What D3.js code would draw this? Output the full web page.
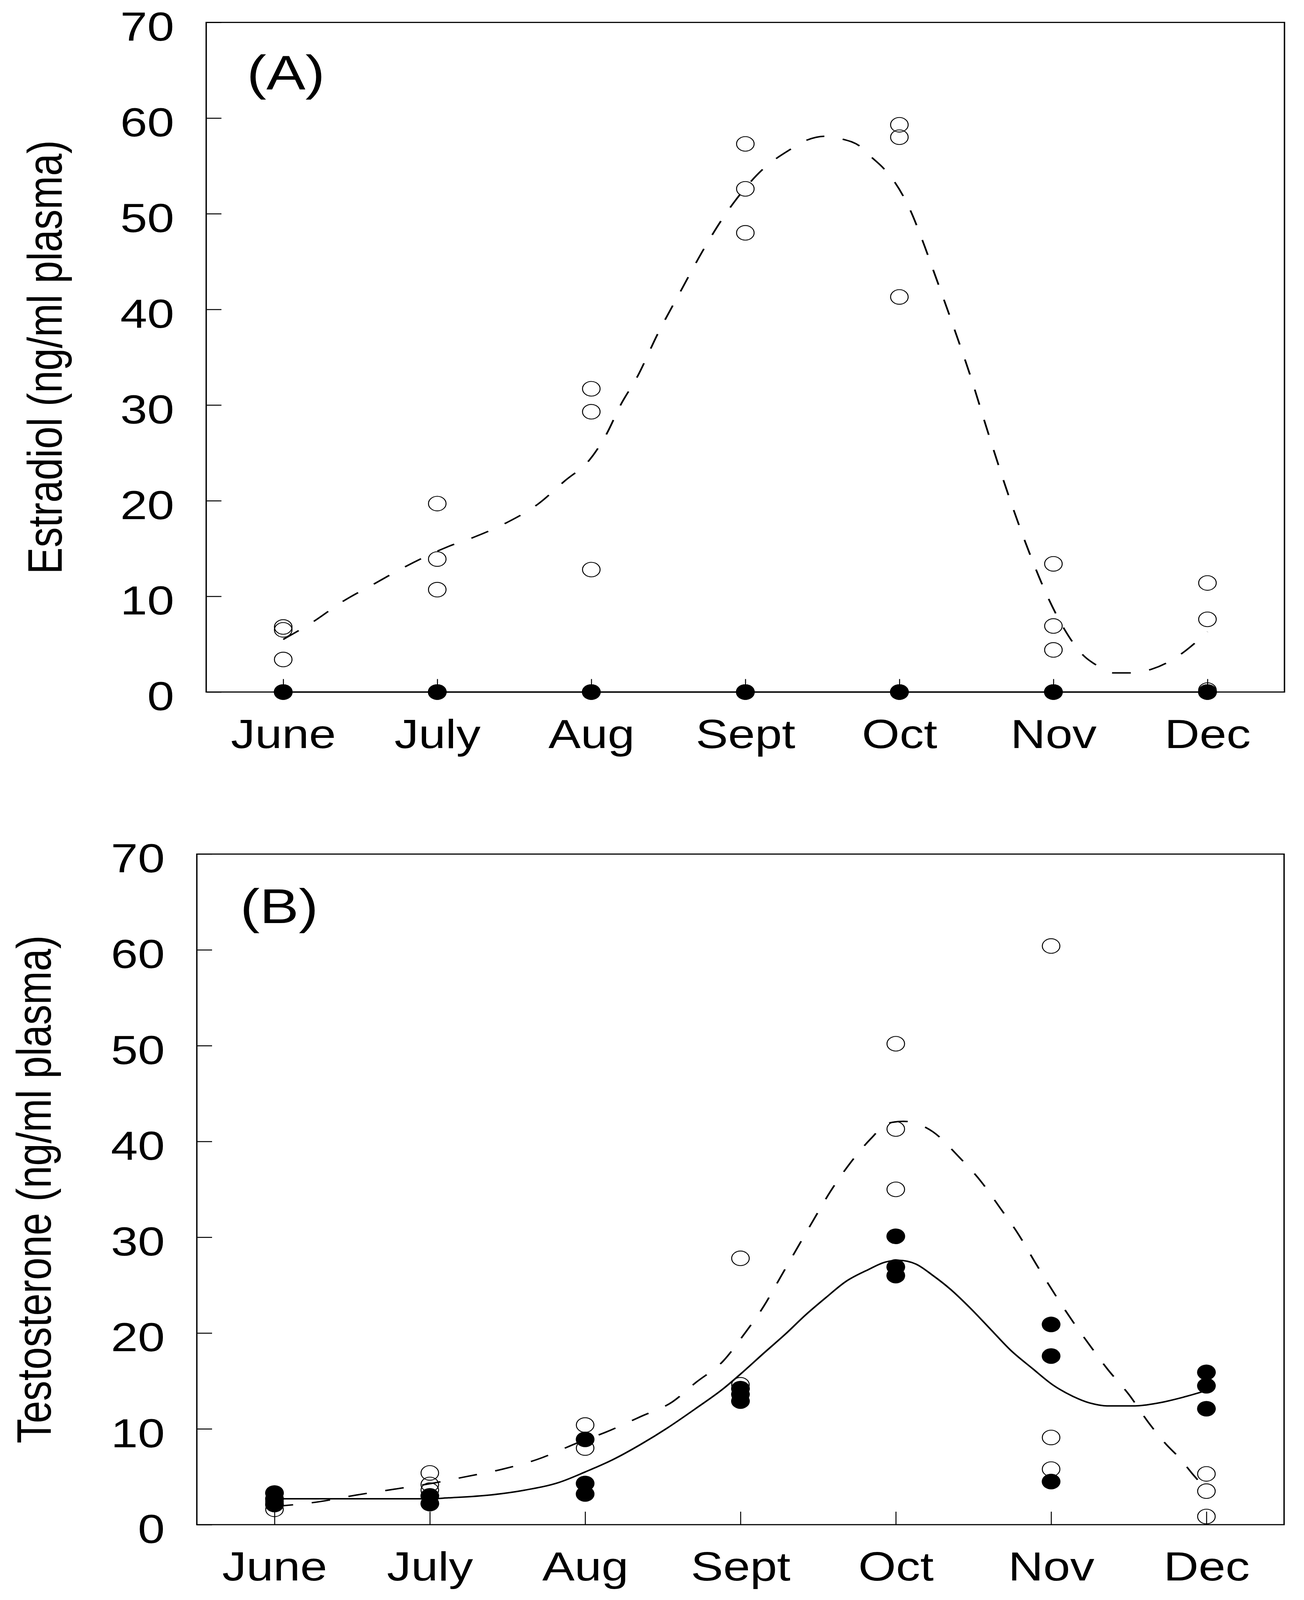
<!DOCTYPE html>
<html><head><meta charset="utf-8">
<script src="https://cdn.jsdelivr.net/npm/d3@7"></script>
<style>html,body{margin:0;padding:0;background:#fff;overflow:hidden}svg{display:block}</style>
</head><body><svg id="chart"></svg>
<script>
// ---------- data ----------
const months = ["June","July","Aug","Sept","Oct","Nov","Dec"];
const yTicks = [0,10,20,30,40,50,60,70];

// Panel A: Estradiol
const estradiolOpen = [
  [6.8, 6.5, 3.4],
  [19.7, 13.9, 10.7],
  [31.7, 29.3, 12.8],
  [57.3, 52.6, 48.0],
  [59.3, 58.0, 41.3],
  [13.4, 6.9, 4.4],
  [11.4, 7.6, 0.2]
];
const estradiolFilled = [
  [0,0,0],[0,0,0],[0,0,0],[0,0,0],[0,0,0],[0,0,0],[0,0,0]
];
const estradiolOpenFitX = [0,0.2,0.38,0.59,0.78,1.07,1.24,1.45,1.65,1.83,1.99,2.10,2.19,2.30,2.43,2.58,2.73,2.84,2.96,3.11,3.29,3.40,3.52,3.63,3.74,3.82,3.90,3.97,4.07,4.15,4.22,4.36,4.46,4.58,4.71,4.85,4.97,5.07,5.19,5.28,5.39,5.51,5.64,5.73,5.84,5.91,6.0];
const estradiolOpenFitY = [5.5,7.4,9.4,11.3,13.0,15.2,16.2,17.7,19.6,22.1,24.3,27.0,30.0,33.0,37.4,41.9,46.3,49.2,51.9,54.6,56.7,57.7,58.1,57.8,57.1,55.9,54.7,53.3,50.4,47.2,44.1,37.8,33.1,26.9,20.5,14.3,9.7,6.6,3.9,2.8,2.0,2.0,2.4,3.0,4.1,5.0,6.3];
const estradiolFilledFitX = [0,6];
const estradiolFilledFitY = [0,0];

// Panel B: Testosterone
const testoOpen = [
  [1.6, 2.4],
  [5.4, 4.2, 3.6],
  [10.4, 8.0],
  [27.8, 14.6],
  [50.2, 41.3, 35.0],
  [60.4, 9.1, 5.8],
  [5.3, 3.5, 0.85]
];
const testoFilled = [
  [3.3, 2.7, 2.1],
  [3.0, 2.2],
  [8.9, 4.3, 3.2],
  [14.2, 13.6, 12.9],
  [30.1, 26.9, 26.0],
  [20.9, 17.6, 4.5],
  [15.9, 14.5, 12.1]
];
const testoOpenFitX = [0,0.29,0.53,0.77,1.01,1.23,1.47,1.69,1.96,2.14,2.36,2.56,2.71,2.89,3.02,3.15,3.26,3.37,3.47,3.58,3.70,3.84,3.95,4.05,4.24,4.40,4.55,4.67,4.79,4.90,5.03,5.14,5.25,5.36,5.50,5.63,5.74,5.83,5.91,6.0];
const testoOpenFitY = [1.9,2.4,3.1,3.7,4.3,5.0,5.8,6.8,8.6,9.7,11.3,12.8,14.8,17.1,19.8,22.8,25.9,29.0,31.8,34.8,37.6,40.3,41.9,42.1,41.0,38.5,35.8,33.1,30.3,27.3,23.9,21.2,18.7,16.3,13.6,10.6,8.4,6.9,5.3,3.7];
const testoFilledFitX = [0,1.0,1.12,1.39,1.61,1.83,2.0,2.18,2.36,2.53,2.71,2.89,3.02,3.15,3.29,3.42,3.55,3.68,3.82,3.93,4.02,4.13,4.24,4.35,4.48,4.61,4.74,4.88,5.01,5.14,5.25,5.36,5.54,5.69,5.85,6.0];
const testoFilledFitY = [2.7,2.7,2.8,3.1,3.6,4.4,5.5,6.8,8.4,10.1,12.1,14.2,16.0,17.9,19.9,21.9,23.7,25.4,26.6,27.4,27.6,27.2,26.0,24.6,22.6,20.4,18.2,16.3,14.6,13.4,12.7,12.4,12.4,12.7,13.3,14.0];

// ---------- drawing ----------
const W = 3339, H = 4927;
const FONT = "'Liberation Sans', Arial, Helvetica, sans-serif";
const FS = 124;
const vw = window.innerWidth || W, vh = window.innerHeight || H;
const svg = d3.select("#chart")
  .attr("width", vw).attr("height", vh)
  .attr("viewBox", `0 0 ${W} ${H}`)
  .attr("preserveAspectRatio", "none")
  .style("font-family", FONT);
svg.append("rect").attr("width", W).attr("height", H).attr("fill", "#fff");

function flatten(groups) {
  const out = [];
  groups.forEach((vals, i) => vals.forEach(v => out.push({m: i, v: v})));
  return out;
}
function zipXY(xs, ys) { return xs.map((x, i) => ({m: x, v: ys[i]})); }

function panel(cfg) {
  const x = d3.scaleLinear().domain([-0.5, 6.5]).range([cfg.left, cfg.right]);
  const y = d3.scaleLinear().domain([0, 70]).range([cfg.bottom, cfg.top]);
  const g = svg.append("g");

  // frame
  g.append("rect")
    .attr("x", cfg.left).attr("y", cfg.top)
    .attr("width", cfg.right - cfg.left).attr("height", cfg.bottom - cfg.top)
    .attr("fill", "none").attr("stroke", "#000").attr("stroke-width", 3.5);

  // y axis
  const ya = g.append("g").attr("transform", `translate(${cfg.left},0)`)
    .call(d3.axisLeft(y).tickValues(yTicks).tickSizeInner(-39).tickSizeOuter(0).tickPadding(82).tickFormat(d3.format("d")));
  ya.select(".domain").remove();
  ya.selectAll(".tick line").attr("stroke", "#000").attr("stroke-width", 3);
  ya.selectAll(".tick text").attr("font-size", FS).attr("font-family", FONT)
    .attr("fill", "#000").attr("dy", "0.45em");

  // x axis
  const xa = g.append("g").attr("transform", `translate(0,${cfg.bottom})`)
    .call(d3.axisBottom(x).tickValues(d3.range(months.length)).tickSizeInner(-40).tickSizeOuter(0).tickPadding(84).tickFormat(i => months[i]));
  xa.select(".domain").remove();
  xa.selectAll(".tick line").attr("stroke", "#000").attr("stroke-width", 2.5);
  xa.selectAll(".tick text").attr("font-size", FS).attr("font-family", FONT)
    .attr("fill", "#000").attr("dy", "0.71em");

  // fitted lines
  const line = d3.line().x(d => x(d.m)).y(d => y(d.v)).curve(d3.curveMonotoneX);
  g.append("path").datum(zipXY(cfg.openFitX, cfg.openFitY))
    .attr("d", line).attr("fill", "none").attr("stroke", "#000")
    .attr("stroke-width", 4.5).attr("stroke-dasharray", "48,48");
  g.append("path").datum(zipXY(cfg.filledFitX, cfg.filledFitY))
    .attr("d", line).attr("fill", "none").attr("stroke", "#000")
    .attr("stroke-width", 4.5);

  // open circles
  g.append("g").selectAll("circle").data(flatten(cfg.open)).join("circle")
    .attr("cx", d => x(d.m)).attr("cy", d => y(d.v)).attr("r", 22.5)
    .attr("fill", "none").attr("stroke", "#000").attr("stroke-width", 2.5);
  // filled circles
  g.append("g").selectAll("circle").data(flatten(cfg.filled)).join("circle")
    .attr("cx", d => x(d.m)).attr("cy", d => y(d.v)).attr("r", 24)
    .attr("fill", "#000");

  // panel label
  g.append("text").attr("x", cfg.labelX).attr("y", cfg.labelY)
    .attr("font-size", 150).attr("font-family", FONT).text(cfg.label);

  // y title
  g.append("text")
    .attr("transform", `translate(${cfg.titleX},${(cfg.top + cfg.bottom) / 2}) rotate(-90)`)
    .attr("text-anchor", "middle").attr("font-size", FS).attr("font-family", FONT)
    .text(cfg.title);
}

panel({
  left: 528, right: 3289, top: 69, bottom: 2131,
  open: estradiolOpen, filled: estradiolFilled,
  openFitX: estradiolOpenFitX, openFitY: estradiolOpenFitY,
  filledFitX: estradiolFilledFitX, filledFitY: estradiolFilledFitY,
  label: "(A)", labelX: 632, labelY: 276,
  title: "Estradiol (ng/ml plasma)", titleX: 158
});
panel({
  left: 504, right: 3288, top: 2630, bottom: 4695,
  open: testoOpen, filled: testoFilled,
  openFitX: testoOpenFitX, openFitY: testoOpenFitY,
  filledFitX: testoFilledFitX, filledFitY: testoFilledFitY,
  label: "(B)", labelX: 615, labelY: 2842,
  title: "Testosterone (ng/ml plasma)", titleX: 130
});
</script>
</body></html>
